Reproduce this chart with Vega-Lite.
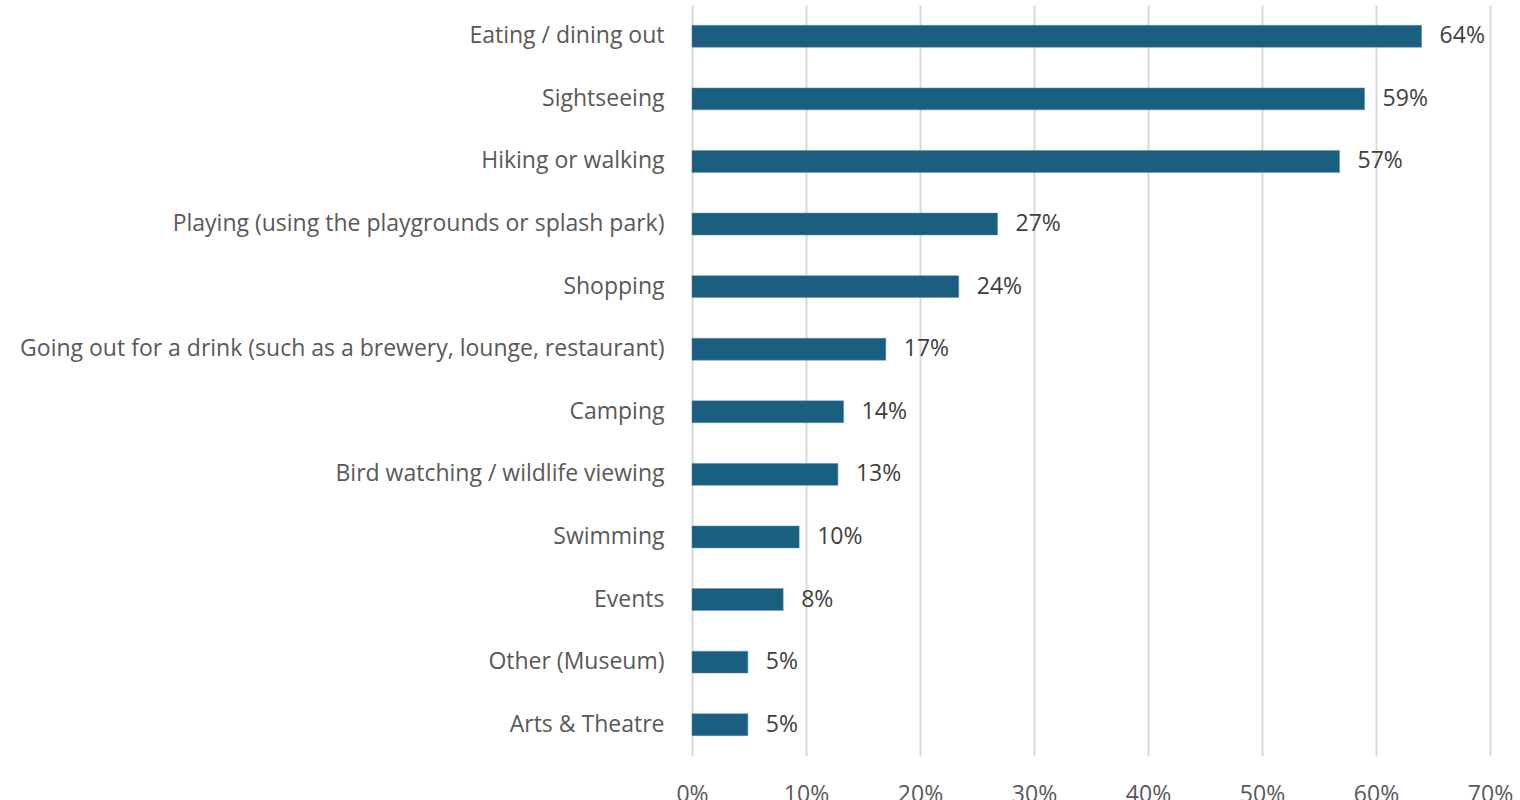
{
  "$schema": "https://vega.github.io/schema/vega-lite/v6.json",
  "autosize": {"type": "none"},
  "padding": {"left": 692, "top": 5, "right": 30, "bottom": 44},
  "width": 798,
  "height": 751,
  "background": "white",
  "config": {"view": {"stroke": null}, "font": "Open Sans"},
  "data": {"values": [
    {"activity": "Eating / dining out", "value": 64.0, "label": "64%"},
    {"activity": "Sightseeing", "value": 59.0, "label": "59%"},
    {"activity": "Hiking or walking", "value": 56.8, "label": "57%"},
    {"activity": "Playing (using the playgrounds or splash park)", "value": 26.8, "label": "27%"},
    {"activity": "Shopping", "value": 23.4, "label": "24%"},
    {"activity": "Going out for a drink (such as a brewery, lounge, restaurant)", "value": 17.0, "label": "17%"},
    {"activity": "Camping", "value": 13.3, "label": "14%"},
    {"activity": "Bird watching / wildlife viewing", "value": 12.8, "label": "13%"},
    {"activity": "Swimming", "value": 9.4, "label": "10%"},
    {"activity": "Events", "value": 8.0, "label": "8%"},
    {"activity": "Other (Museum)", "value": 4.9, "label": "5%"},
    {"activity": "Arts & Theatre", "value": 4.9, "label": "5%"}
  ]},
  "encoding": {
    "y": {"field": "activity", "type": "nominal", "sort": null,
      "scale": {"paddingInner": 0.65, "paddingOuter": 0.325},
      "axis": {"title": null, "domain": false, "ticks": false, "labelPadding": 28, "labelFontSize": 23, "labelColor": "#595959", "labelFont": "Open Sans", "labelLimit": 700}},
    "x": {"field": "value", "type": "quantitative",
      "scale": {"domain": [0, 70], "nice": false},
      "axis": {"title": null, "domain": false, "ticks": false, "values": [0,10,20,30,40,50,60,70], "labelExpr": "datum.value + '%'", "labelPadding": 27, "labelFontSize": 23, "labelFont": "Open Sans", "labelColor": "#595959", "grid": true, "gridColor": "#d9d9d9", "gridWidth": 2, "labelFlush": false}}
  },
  "layer": [
    {"mark": {"type": "bar", "color": "#1a5e80", "stroke": "#5f8fa8", "strokeWidth": 0.5}},
    {"mark": {"type": "text", "align": "left", "baseline": "middle", "dx": 18, "fontSize": 23, "color": "#404040", "font": "Open Sans"},
     "encoding": {"text": {"field": "label"}}}
  ]
}
